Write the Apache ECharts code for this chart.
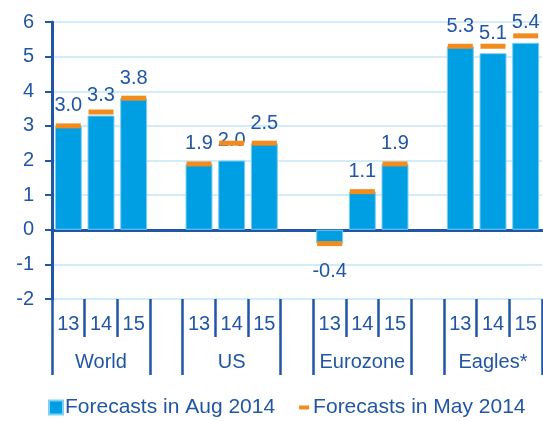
<!DOCTYPE html>
<html>
<head>
<meta charset="utf-8">
<script src="https://cdn.jsdelivr.net/npm/echarts@6/dist/echarts.min.js"></script>
<style>
  html, body { margin: 0; padding: 0; background: #fff; }
  #chart { width: 543px; height: 421px; }
</style>
</head>
<body>
<div id="chart"></div>
<script>
const groups = ['World', 'US', 'Eurozone', 'Eagles*'];
const years = ['13', '14', '15'];
const augValues = [3.0, 3.3, 3.8, 1.9, 2.0, 2.5, -0.4, 1.1, 1.9, 5.3, 5.1, 5.4];
const mayValues = [3.0, 3.4, 3.8, 1.9, 2.5, 2.5, -0.4, 1.1, 1.9, 5.3, 5.3, 5.6];
const yTicks = [-2, -1, 0, 1, 2, 3, 4, 5, 6];

const dark = '#2156a5';
const blue = '#009fe3';
const orange = '#f28c1e';

// one empty slot after every group except the last
let slots = [], augData = [], mayData = [];
groups.forEach((g, gi) => {
    years.forEach((y, yi) => {
        const v = augValues[gi * 3 + yi];
        slots.push(y);
        augData.push(v < 0 ? { value: v, label: { distance: 18 } } : v);
        mayData.push(mayValues[gi * 3 + yi]);
    });
    if (gi < groups.length - 1) {
        slots.push('');
        augData.push('-');
        mayData.push('-');
    }
});

const myChart = echarts.init(document.getElementById('chart'));
const option = {
    animation: false,
    textStyle: { fontFamily: 'Liberation Sans, Arial, sans-serif' },
    grid: { left: 52, right: 1, top: 22, bottom: 122 },
    legend: {
        left: 48, top: 397, padding: 0,
        itemWidth: 14, itemHeight: 14, itemGap: 22,
        textStyle: { fontSize: 21, color: dark, padding: [0, 0, 0, -3] },
        data: [
            { name: 'Forecasts in Aug 2014', icon: 'rect' },
            { name: 'Forecasts in May 2014', icon: 'path://M0,0M2,5L12,5L12,9L2,9ZM14,14' }
        ]
    },
    xAxis: [
        {
            type: 'category', data: slots, position: 'bottom',
            axisLine: { onZero: true, lineStyle: { color: dark, width: 3 } },
            axisTick: { interval: 0, length: 5, lineStyle: { color: dark, width: 2 } },
            axisLabel: { show: false }
        },
        {
            type: 'category', data: slots, position: 'bottom',
            axisLine: { show: false, onZero: false },
            axisTick: { show: true, interval: 0, length: 38, lineStyle: { color: dark, width: 2.5 } },
            axisLabel: { interval: 0, margin: 15, fontSize: 20, color: dark }
        },
        {
            type: 'value', min: 0, max: 15, position: 'bottom',
            axisLine: { show: false, onZero: false },
            splitLine: { show: false },
            axisTick: { show: true, length: 76, customValues: [0, 3, 4, 7, 8, 11, 12, 15], lineStyle: { color: dark, width: 2.5 } },
            axisLabel: {
                customValues: [1.5, 5.5, 9.5, 13.5], margin: 53, fontSize: 20, color: dark,
                formatter: (v) => groups[Math.floor(v / 4)]
            }
        }
    ],
    yAxis: {
        type: 'value', min: yTicks[0], max: yTicks[yTicks.length - 1], interval: 1,
        axisLine: { show: true, lineStyle: { color: dark, width: 3 } },
        axisTick: { show: true, length: 7, lineStyle: { color: dark, width: 2 } },
        axisLabel: { fontSize: 20, color: dark, margin: 18 },
        splitLine: { lineStyle: { color: '#c6e6f6', width: 1.5 } }
    },
    series: [
        {
            name: 'Forecasts in Aug 2014', type: 'bar', xAxisIndex: 0,
            barWidth: 27,
            itemStyle: { color: blue, borderColor: '#7fd0f2', borderWidth: 1 },
            label: {
                show: true, position: 'outside', distance: 10,
                fontSize: 20, color: dark,
                formatter: (p) => Number(p.value).toFixed(1)
            },
            data: augData
        },
        {
            name: 'Forecasts in May 2014', type: 'scatter', xAxisIndex: 0,
            symbol: 'rect', symbolSize: [25, 5],
            itemStyle: { color: orange, opacity: 1 },
            z: 3,
            data: mayData
        }
    ]
};
option && myChart.setOption(option);
</script>
</body>
</html>
